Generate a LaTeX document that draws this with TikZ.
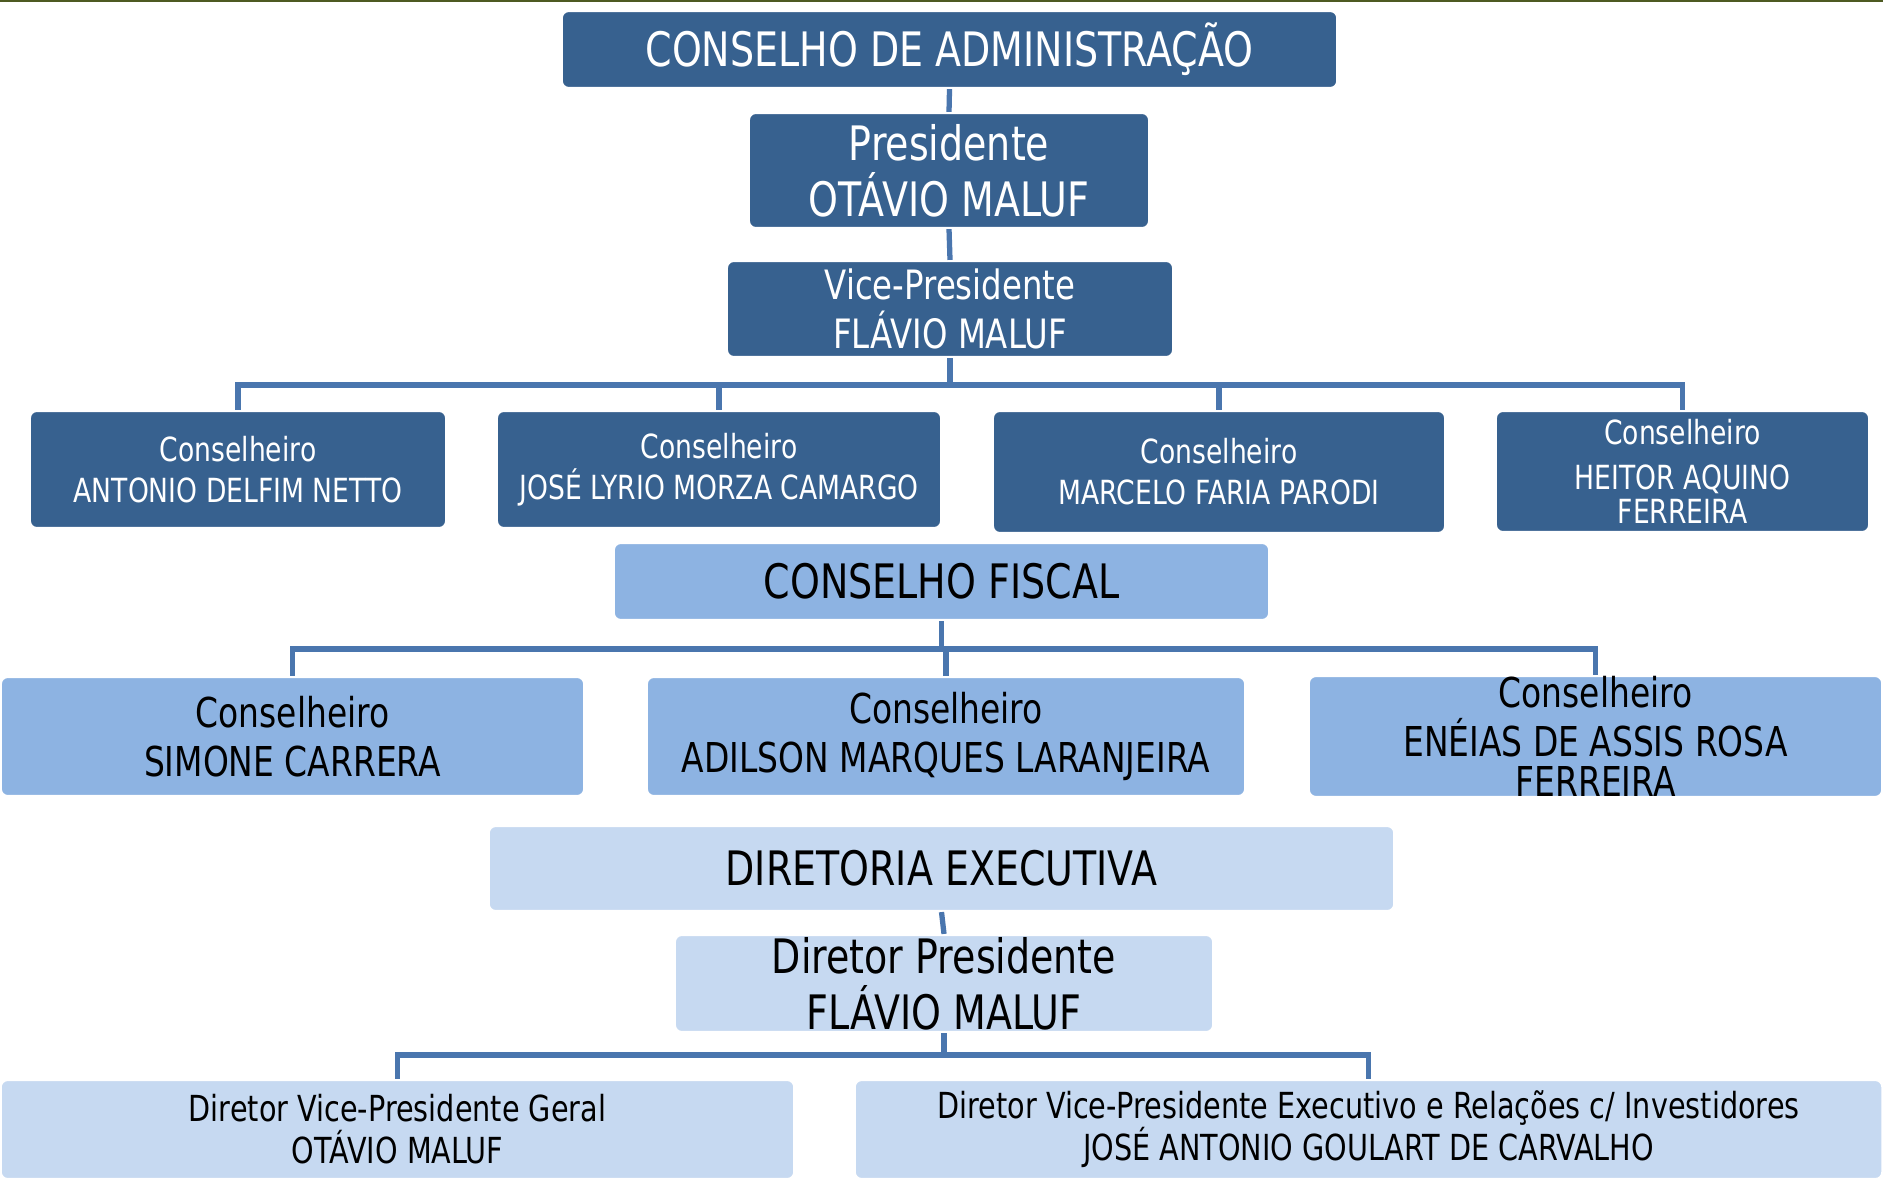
\documentclass[tikz,border=0pt]{standalone}
\usepackage{fontspec}
\setmainfont{DejaVu Sans}[FakeStretch=0.8]
\usepackage{xcolor}
\usetikzlibrary{positioning,calc}
\definecolor{boarddark}{HTML}{37618F}
\definecolor{fiscalmid}{HTML}{8DB3E2}
\definecolor{execlight}{HTML}{C6D9F1}
\definecolor{linkblue}{HTML}{4A76AE}
\definecolor{topstrip}{HTML}{4E5A22}

\begin{document}
\begin{tikzpicture}[x=0.01cm,y=-0.01cm,
  box/.style={rectangle,rounded corners=0.07cm,draw=white,line width=0.6pt,align=center,inner sep=0pt},
  board/.style={box,fill=boarddark,text=white},
  fiscal/.style={box,fill=fiscalmid,text=black},
  exec/.style={box,fill=execlight,text=black},
  big/.style={font=\fontsize{13.5}{16}\selectfont},
  link/.style={draw=linkblue,line width=1.5pt}]
  \useasboundingbox[fill=white] (0,0) rectangle (1883,1182);
  \fill[topstrip] (0,0) rectangle (1883,2);

  % conselho de administracao
  \node[board,big,minimum width=7.75cm,minimum height=0.77cm] (adm) at (949.5,49.5) {CONSELHO DE ADMINISTRAÇÃO};
  \node[board,big,minimum width=4.00cm,minimum height=1.15cm] (pres) at (949,170.5) {Presidente\\OTÁVIO MALUF};
  \node[board,font=\fontsize{11.5}{14}\selectfont,minimum width=4.46cm,minimum height=0.96cm] (vice) at (950,309) {Vice-Presidente\\FLÁVIO MALUF};

  \begin{scope}[every node/.append style={font=\fontsize{9.45}{11.7}\selectfont,minimum height=1.17cm}]
    \node[board,minimum width=4.16cm] (adc1) at (238,469.5) {Conselheiro\\ANTONIO DELFIM NETTO};
    \node[board,minimum width=4.44cm] (adc2) at (719,469.5) {Conselheiro\\JOSÉ LYRIO MORZA CAMARGO};
    \node[board,minimum width=4.52cm,minimum height=1.22cm] (adc3) at (1219,472) {Conselheiro\\MARCELO FARIA PARODI};
    \node[board,minimum width=3.73cm,minimum height=1.21cm] (adc4) at (1682.5,471.5) {Conselheiro\\[1pt]HEITOR AQUINO\\[-2pt]FERREIRA};
  \end{scope}

  % conselho fiscal
  \node[fiscal,big,minimum width=6.55cm,minimum height=0.77cm] (fis) at (941.5,581.5) {CONSELHO FISCAL};
  \begin{scope}[every node/.append style={font=\fontsize{11.7}{14}\selectfont,minimum height=1.19cm}]
    \node[fiscal,minimum width=5.83cm] (fc1) at (292.5,736.5) {Conselheiro\\SIMONE CARRERA};
    \node[fiscal,minimum width=5.98cm] (fc2) at (946,736.5) {Conselheiro\\ADILSON MARQUES LARANJEIRA};
    \node[fiscal,minimum width=5.73cm] (fc3) at (1595.5,736.5) {Conselheiro\\ENÉIAS DE ASSIS ROSA\\[-2.5pt]FERREIRA};
  \end{scope}

  % diretoria executiva
  \node[exec,big,minimum width=9.05cm,minimum height=0.85cm] (dir) at (941.5,868.5) {DIRETORIA EXECUTIVA};
  \node[exec,big,minimum width=5.38cm,minimum height=0.97cm] (dpres) at (944,983.5) {Diretor Presidente\\FLÁVIO MALUF};
  \begin{scope}[every node/.append style={font=\fontsize{10.2}{12}\selectfont,minimum height=0.99cm}]
    \node[exec,minimum width=7.93cm] (dvp1) at (397.5,1129.5) {Diretor Vice-Presidente Geral\\OTÁVIO MALUF};
    \node[exec,minimum width=10.27cm] (dvp2) at (1368.5,1129.5) {Diretor Vice-Presidente Executivo e Relações c/ Investidores\\JOSÉ ANTONIO GOULART DE CARVALHO};
  \end{scope}

  \draw[link] (adm.south) -- (pres.north);
  \draw[link] (pres.south) -- (vice.north);
  \foreach \c in {adc1,adc2,adc3,adc4}
    \draw[link] (vice.south) -- ++(0,27) -| (\c.north);
  \foreach \f in {fc1,fc2,fc3}
    \draw[link] (fis.south) -- ++(0,28) -| (\f.north);
  \draw[link] (dir.south) -- (dpres.north);
  \foreach \d in {dvp1,dvp2}
    \draw[link] (dpres.south) -- ++(0,22) -| (\d.north);
\end{tikzpicture}
\end{document}
